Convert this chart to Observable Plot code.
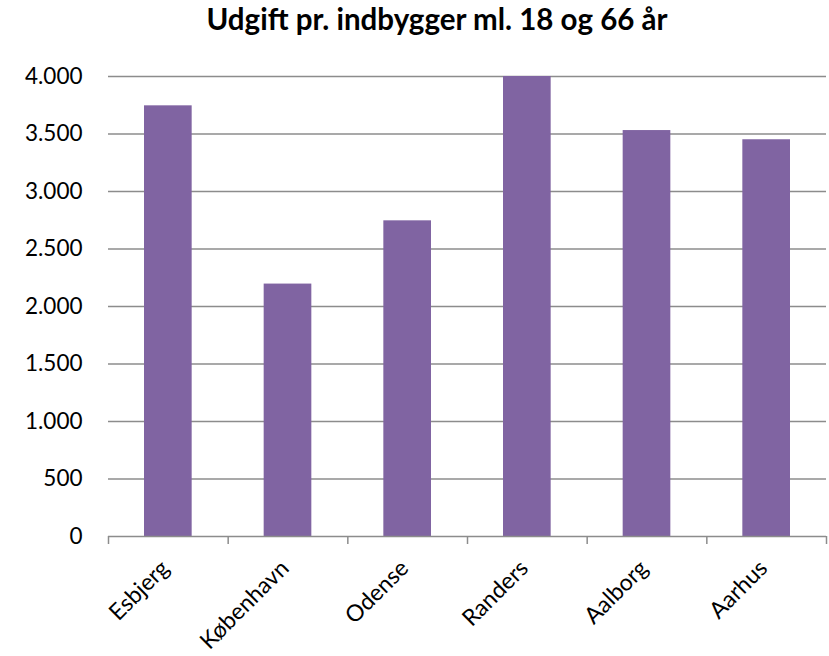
<!DOCTYPE html>
<html><head><meta charset="utf-8">
<script src="https://cdn.jsdelivr.net/npm/d3@7"></script>
<script src="https://cdn.jsdelivr.net/npm/@observablehq/plot@0.6"></script>
<style>
html,body{margin:0;padding:0;background:#fff;}
body{width:829px;height:656px;overflow:hidden;font-family:Lato,sans-serif;}
#title{height:40px;line-height:38px;font-weight:bold;font-size:29.5px;text-align:center;padding-left:45px;color:#000;white-space:nowrap;box-sizing:border-box;width:829px;}
</style></head><body>
<div id="title">Udgift pr. indbygger ml. 18 og 66 år</div>
<div id="chart"></div>
<script>
const categories = ["Esbjerg", "København", "Odense", "Randers", "Aalborg", "Aarhus"];
const values = [3745, 2195, 2745, 4000, 3530, 3450];
const yTicks = [0, 500, 1000, 1500, 2000, 2500, 3000, 3500, 4000];

const data = categories.map((c, i) => ({category: c, i: i, i2: i + 1, value: values[i]}));
const da = d3.formatLocale({decimal: ",", thousands: ".", grouping: [3], currency: ["", " kr."]});
const fmt = da.format(",");
const grid = "#8c8c8c";

const chart = Plot.plot({
  width: 829,
  height: 616,
  marginTop: 36,
  marginBottom: 120,
  marginLeft: 108,
  marginRight: 3,
  style: {fontFamily: "Lato, sans-serif", fontSize: "22.5px", color: "#000", background: "#fff"},
  x: {domain: [0, categories.length], axis: null},
  y: {domain: [0, 4000], axis: null},
  marks: [
    Plot.ruleY(yTicks.filter(v => v > 0), {stroke: grid, strokeWidth: 1.5}),
    Plot.rectY(data, {x1: "i", x2: "i2", y: "value", fill: "#8064A2", insetLeft: 36, insetRight: 36}),
    Plot.ruleY([0], {stroke: grid, strokeWidth: 1.5}),
    Plot.axisX(d3.range(categories.length + 1), {tickSize: 8, tickFormat: () => "", stroke: grid, strokeWidth: 1.5, label: null}),
    Plot.axisX(categories.map((c, i) => i + 0.5), {tickSize: 0, tickRotate: -45, tickPadding: 10, dx: -3, dy: 18, tickFormat: v => categories[Math.round(v - 0.5)], fontSize: 23, label: null}),
    Plot.axisY(yTicks, {tickSize: 0, tickPadding: 26, tickFormat: fmt, fontSize: 22.5, label: null})
  ]
});
document.getElementById("chart").appendChild(chart);
</script>
</body></html>
